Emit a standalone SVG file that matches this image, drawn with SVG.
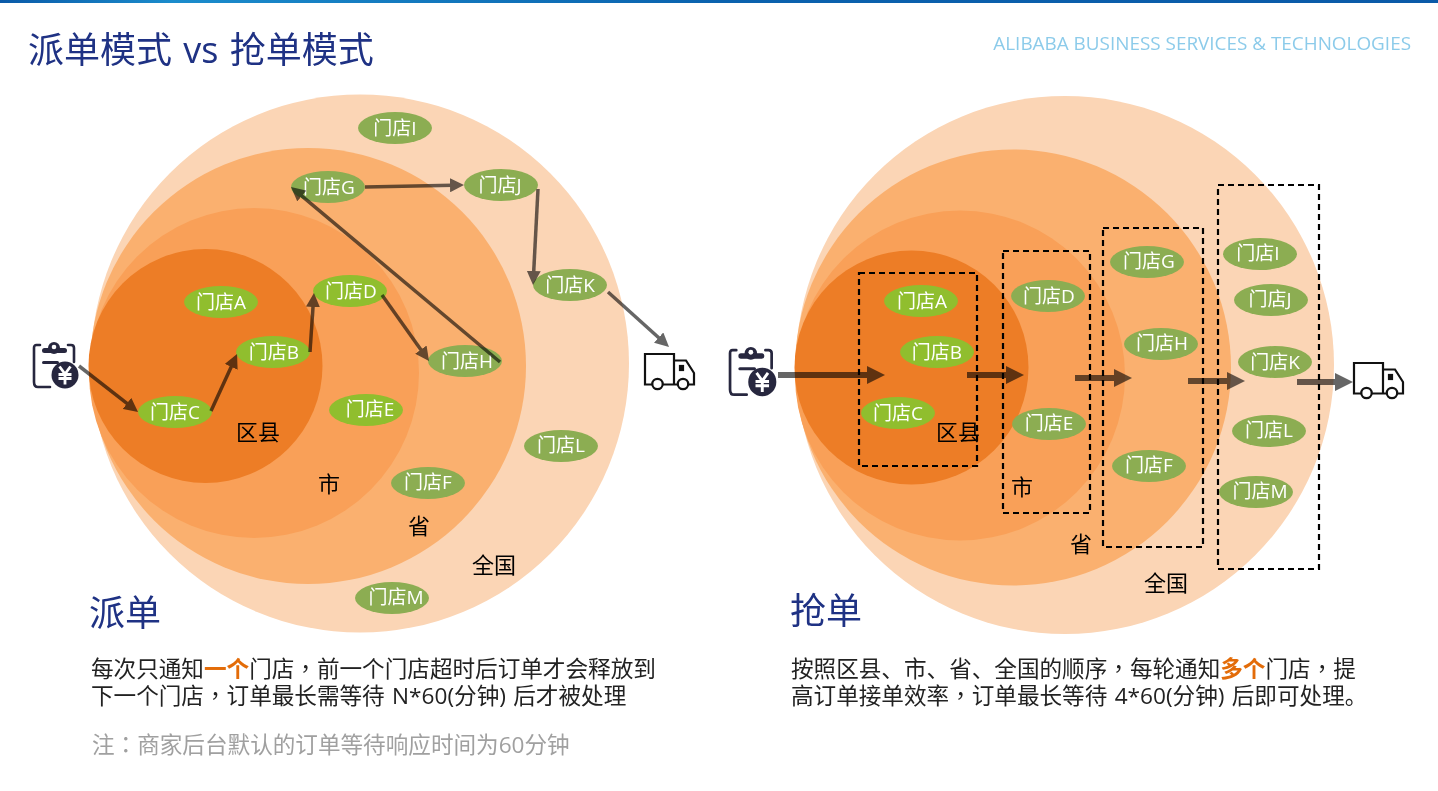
<svg xmlns="http://www.w3.org/2000/svg" width="1438" height="791" viewBox="0 0 1438 791">
<style>
text{font-family:"Open Sans","Noto Sans CJK SC",sans-serif}
.tc{font-family:"Noto Sans CJK TC",sans-serif}
.l0{fill:#fbd5b5}.l1{fill:#fab06f}.l2{fill:#f9a058}.l3{fill:#ed7d26}
.lab{font-size:22px;fill:#000;text-anchor:middle}
.g ellipse{fill:#8cad52}.b ellipse{fill:#90be2e}
.s text{font-size:19px;fill:#fff;text-anchor:middle}
#connectors{mix-blend-mode:multiply}
.c{stroke:#666;fill:none}
.t{stroke-width:3.500}.w{stroke-width:6}
.box{fill:none;stroke:#000;stroke-width:2.200;stroke-dasharray:6 4}
.h{font-size:36px;fill:#1f3284}
.p{font-size:22.600px;fill:#222}
.o{fill:#e36c09;font-weight:700}
</style>
<defs>
<linearGradient id="bar" x1="0" x2="1" y1="0" y2="0"><stop offset="0" stop-color="#0a5aa8"/><stop offset=".12" stop-color="#1b8ccc"/><stop offset=".5" stop-color="#0a62ae"/><stop offset="1" stop-color="#0a5aa8"/></linearGradient>
<marker id="a" viewBox="0 0 10 10" refX="2" refY="5" markerUnits="userSpaceOnUse" markerWidth="14" markerHeight="14" orient="auto"><path d="M0 0L10 5L0 10z" fill="#666"/></marker>
<marker id="A" viewBox="0 0 10 10" refX="1" refY="5" markerUnits="userSpaceOnUse" markerWidth="18" markerHeight="18" orient="auto"><path d="M0 0L10 5L0 10z" fill="#666"/></marker>
<g id="order">
<path d="M7 3H3.500Q1 3 1 6V40Q1 45 5 45H17M35 3H38Q41 3 41 6V20" fill="none" stroke="#27273f" stroke-width="2.600" stroke-linecap="round"/>
<circle cx="21" cy="6" r="6" fill="#27273f"/>
<rect x="9" y="6" width="25" height="5" rx="2.500" fill="#27273f"/><circle cx="21" cy="5" r="2.300" fill="#fff"/>
<rect x="9" y="19" width="17" height="3" rx="1.500" fill="#27273f"/>
<circle cx="32" cy="33" r="13.500" fill="#27273f"/>
<path d="M26.500 24.500L32 32L37.500 24.500M25.500 32.500H38.500M25.500 36.500H38.500M32 32V42.500" fill="none" stroke="#fff" stroke-width="2.800"/>
</g>
<g id="truck" fill="none" stroke="#111" stroke-width="2.200">
<path d="M8 31.500H1V1H30V31.500H19M30 7.500H42L50 20V31.500H45M30 31.500H33"/>
<circle cx="13.500" cy="31" r="5.200"/><circle cx="39" cy="31" r="5.200"/>
<rect x="36" y="13" width="3" height="4" fill="#111"/>
</g>
</defs>
<rect width="1438" height="791" fill="#fff"/>
<rect width="1438" height="3" fill="url(#bar)"/>
<text class="h" x="28" y="63" word-spacing="2">派单模式 vs 抢单模式</text>
<text x="1411" y="50" font-size="18.900" fill="#8ccbea" text-anchor="end">ALIBABA BUSINESS SERVICES &amp; TECHNOLOGIES</text>

<g id="left-rings">
<circle class="l0" cx="360" cy="363.500" r="269"/>
<circle class="l1" cx="308" cy="366" r="218"/>
<circle class="l2" cx="254" cy="373" r="165"/>
<circle class="l3" cx="205.500" cy="366" r="117"/>
</g>
<g id="right-rings">
<circle class="l0" cx="1065" cy="365" r="269"/>
<circle class="l1" cx="1013" cy="367.500" r="218"/>
<circle class="l2" cx="960" cy="375.500" r="165"/>
<circle class="l3" cx="911.500" cy="367.500" r="117"/>
</g>
<g id="zone-labels">
<text class="lab" x="258" y="440">区县</text><text class="lab" x="329" y="492">市</text><text class="lab" x="419" y="534">省</text><text class="lab" x="494" y="573">全国</text>
<text class="lab" x="958" y="440">区县</text><text class="lab" x="1022" y="495">市</text><text class="lab" x="1081" y="552">省</text><text class="lab" x="1166" y="591">全国</text>
</g>

<g id="n-l-I" class="s g"><ellipse cx="395" cy="128" rx="37" ry="16"/><text x="395" y="135">门店I</text></g>
<g id="n-l-G" class="s g"><ellipse cx="328" cy="187" rx="37" ry="16"/><text x="329" y="194">门店G</text></g>
<g id="n-l-J" class="s g"><ellipse cx="501" cy="185" rx="37" ry="16"/><text x="500" y="192">门店J</text></g>
<g id="n-l-K" class="s g"><ellipse cx="570" cy="285" rx="37" ry="16"/><text x="570" y="292">门店K</text></g>
<g id="n-l-A" class="s b"><ellipse cx="221" cy="302" rx="37" ry="16"/><text x="221" y="309">门店A</text></g>
<g id="n-l-D" class="s b"><ellipse cx="350" cy="291" rx="37" ry="16"/><text x="351" y="298">门店D</text></g>
<g id="n-l-B" class="s b"><ellipse cx="273" cy="352" rx="37" ry="16"/><text x="274" y="359">门店B</text></g>
<g id="n-l-H" class="s g"><ellipse cx="465" cy="361" rx="37" ry="16"/><text x="467" y="368">门店H</text></g>
<g id="n-l-C" class="s b"><ellipse cx="175" cy="412" rx="37" ry="16"/><text x="175" y="419">门店C</text></g>
<g id="n-l-E" class="s b"><ellipse cx="366" cy="410" rx="37" ry="16"/><text x="370" y="416">门店E</text></g>
<g id="n-l-L" class="s g"><ellipse cx="561" cy="446" rx="37" ry="16"/><text x="561" y="452">门店L</text></g>
<g id="n-l-F" class="s g"><ellipse cx="428" cy="483" rx="37" ry="16"/><text x="428" y="489">门店F</text></g>
<g id="n-l-M" class="s g"><ellipse cx="392" cy="598" rx="37" ry="16"/><text x="396" y="604">门店M</text></g>

<g id="n-r-A" class="s b"><ellipse cx="921" cy="301" rx="37" ry="16"/><text x="922" y="308">门店A</text></g>
<g id="n-r-B" class="s b"><ellipse cx="937" cy="352" rx="37" ry="16"/><text x="937" y="359">门店B</text></g>
<g id="n-r-C" class="s b"><ellipse cx="898" cy="413" rx="37" ry="16"/><text x="898" y="420">门店C</text></g>
<g id="n-r-D" class="s g"><ellipse cx="1048" cy="296" rx="37" ry="16"/><text x="1049" y="303">门店D</text></g>
<g id="n-r-E" class="s g"><ellipse cx="1049" cy="424" rx="37" ry="16"/><text x="1049" y="430">门店E</text></g>
<g id="n-r-G" class="s g"><ellipse cx="1147" cy="262" rx="37" ry="16"/><text x="1149" y="268">门店G</text></g>
<g id="n-r-H" class="s g"><ellipse cx="1161" cy="344" rx="37" ry="16"/><text x="1162" y="350">门店H</text></g>
<g id="n-r-F" class="s g"><ellipse cx="1149" cy="466" rx="37" ry="16"/><text x="1149" y="472">门店F</text></g>
<g id="n-r-I" class="s g"><ellipse cx="1260" cy="254" rx="37" ry="16"/><text x="1258" y="260">门店I</text></g>
<g id="n-r-J" class="s g"><ellipse cx="1271" cy="300" rx="37" ry="16"/><text x="1270" y="306">门店J</text></g>
<g id="n-r-K" class="s g"><ellipse cx="1275" cy="362" rx="37" ry="16"/><text x="1275" y="369">门店K</text></g>
<g id="n-r-L" class="s g"><ellipse cx="1269" cy="431" rx="37" ry="16"/><text x="1269" y="437">门店L</text></g>
<g id="n-r-M" class="s g"><ellipse cx="1256" cy="492" rx="37" ry="16"/><text x="1260" y="498">门店M</text></g>

<g id="tiers">
<rect class="box" x="859" y="273" width="118" height="193"/>
<rect class="box" x="1003" y="251" width="87" height="262"/>
<rect class="box" x="1103" y="228" width="100" height="319"/>
<rect class="box" x="1218" y="185" width="101" height="384"/>
</g>

<g id="connectors">
<line class="c t" x1="79" y1="366" x2="129.200" y2="405.100" marker-end="url(#a)"/>
<line class="c t" x1="211" y1="411" x2="232.400" y2="364.200" marker-end="url(#a)"/>
<line class="c t" x1="310" y1="352" x2="313.200" y2="304.200" marker-end="url(#a)"/>
<line class="c t" x1="382" y1="295" x2="422.500" y2="351.900" marker-end="url(#a)"/>
<line class="c t" x1="500" y1="362" x2="299.600" y2="194.200" marker-end="url(#a)"/>
<line class="c t" x1="365" y1="187" x2="452.800" y2="185.200" marker-end="url(#a)"/>
<line class="c t" x1="538" y1="189" x2="533.600" y2="273.800" marker-end="url(#a)"/>
<line class="c t" x1="608" y1="292" x2="660.700" y2="339.500" marker-end="url(#a)"/>
<line class="c w" x1="778" y1="375" x2="868.800" y2="375" marker-end="url(#A)"/>
<line class="c w" x1="967" y1="375" x2="1007.800" y2="375" marker-end="url(#A)"/>
<line class="c w" x1="1075" y1="378" x2="1115.800" y2="378" marker-end="url(#A)"/>
<line class="c w" x1="1188" y1="381" x2="1228.800" y2="381" marker-end="url(#A)"/>
<line class="c w" x1="1297" y1="382" x2="1336.800" y2="382" marker-end="url(#A)"/>
</g>

<g id="icons">
<use href="#order" x="33" y="342"/>
<use href="#order" transform="translate(729 347) scale(1.040 1.060)"/>
<use href="#truck" x="644" y="353"/>
<use href="#truck" x="1353" y="362"/>
</g>

<text class="h" x="89" y="626">派单</text>
<text class="h" x="790" y="624">抢单</text>
<text class="p" x="91" y="677">每次只通知<tspan class="o">一个</tspan>门店<tspan class="tc">，</tspan>前一个门店超时后订单才会释放到</text>
<text class="p" x="91" y="704" word-spacing="1.500">下一个门店<tspan class="tc">，</tspan>订单最长需等待 N*60(分钟) 后才被处理</text>
<text x="92" y="753" font-size="22.600" fill="#a0a0a0"><tspan>注</tspan><tspan class="tc">：</tspan>商家后台默认的订单等待响应时间为60分钟</text>
<text class="p" x="791" y="677">按照区县、市、省、全国的顺序<tspan class="tc">，</tspan>每轮通知<tspan class="o">多个</tspan>门店<tspan class="tc">，</tspan>提</text>
<text class="p" x="791" y="704" word-spacing="1.500">高订单接单效率<tspan class="tc">，</tspan>订单最长等待 4*60(分钟) 后即可处理。</text>
</svg>
